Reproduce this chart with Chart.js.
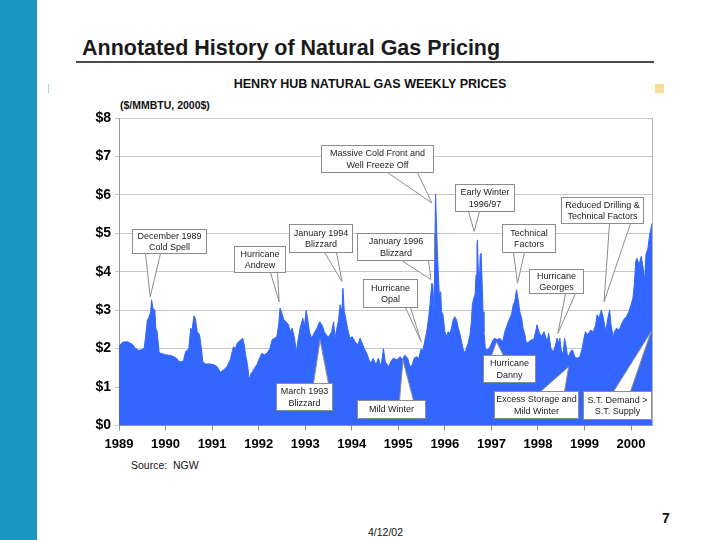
<!DOCTYPE html>
<html>
<head>
<meta charset="utf-8">
<script src="https://cdn.jsdelivr.net/npm/chart.js@4.4.1/dist/chart.umd.min.js"></script>
<style>
  body { margin: 0; background: #fff; }
  #slide { position: relative; width: 720px; height: 540px; overflow: hidden;
           font-family: "Liberation Sans", Arial, sans-serif; color: #111; }
  #slide div { position: absolute; white-space: pre; line-height: 1; }
  #bar { left: 0; top: 0; width: 37px; height: 540px; background: #1b95c1; }
  #title { left: 82px; top: 38px; font-size: 21.5px; font-weight: bold; color: #1a1a1a; }
  #rule { left: 76px; top: 61px; width: 578px; height: 2px; background: #4a4a4a; }
  #mark { left: 48px; top: 84px; width: 1px; height: 9px; background: #a9d2e6; }
  #square { left: 655px; top: 84px; width: 9px; height: 9px; background: #f7dc9a; }
  #chartTitle { left: 0; width: 740px; text-align: center; top: 78px; font-size: 12.5px; font-weight: bold; }
  #units { left: 120px; top: 100px; font-size: 10.5px; font-weight: bold; }
  #source { left: 131px; top: 460px; font-size: 10.5px; }
  #date { left: 368px; top: 527px; font-size: 10.5px; }
  #page { left: 662px; top: 511px; font-size: 14px; font-weight: bold; }
  canvas { position: absolute; left: 0; top: 0; }
</style>
</head>
<body>
<div id="slide">
  <div id="bar"></div>
  <div id="title">Annotated History of Natural Gas Pricing</div>
  <div id="rule"></div>
  <div id="mark"></div>
  <div id="square"></div>
  <div id="chartTitle">HENRY HUB NATURAL GAS WEEKLY PRICES</div>
  <div id="units">($/MMBTU, 2000$)</div>
  <div id="source">Source:  NGW</div>
  <div id="date">4/12/02</div>
  <div id="page">7</div>
  <canvas id="chart" width="720" height="540"></canvas>
</div>
<script>
// data
const dates = [
  1989.00, 1989.04, 1989.09, 1989.18, 1989.29, 1989.36, 1989.43, 1989.54, 1989.57, 1989.61,
  1989.64, 1989.68, 1989.70, 1989.73, 1989.77, 1989.79, 1989.82, 1989.86, 1989.89, 1990.00,
  1990.11, 1990.18, 1990.25, 1990.29, 1990.36, 1990.39, 1990.43, 1990.50, 1990.54, 1990.57,
  1990.61, 1990.64, 1990.68, 1990.73, 1990.77, 1990.80, 1990.86, 1990.96, 1991.04, 1991.11,
  1991.18, 1991.25, 1991.32, 1991.39, 1991.43, 1991.46, 1991.50, 1991.54, 1991.57, 1991.62,
  1991.66, 1991.69, 1991.72, 1991.76, 1991.79, 1991.81, 1991.84, 1991.87, 1991.91, 1991.96,
  1992.02, 1992.07, 1992.12, 1992.18, 1992.24, 1992.29, 1992.34, 1992.39, 1992.43, 1992.46,
  1992.50, 1992.54, 1992.59, 1992.64, 1992.68, 1992.72, 1992.77, 1992.81, 1992.84, 1992.89,
  1992.95, 1992.98, 1993.02, 1993.05, 1993.09, 1993.14, 1993.19, 1993.25, 1993.31, 1993.36,
  1993.41, 1993.45, 1993.50, 1993.57, 1993.61, 1993.64, 1993.68, 1993.71, 1993.75, 1993.79,
  1993.81, 1993.84, 1993.87, 1993.91, 1993.96, 1994.01, 1994.07, 1994.13, 1994.18, 1994.21,
  1994.27, 1994.32, 1994.37, 1994.41, 1994.46, 1994.52, 1994.57, 1994.63, 1994.68, 1994.72,
  1994.79, 1994.84, 1994.89, 1994.97, 1995.04, 1995.09, 1995.14, 1995.20, 1995.25, 1995.30,
  1995.34, 1995.39, 1995.44, 1995.49, 1995.52, 1995.56, 1995.61, 1995.65, 1995.68, 1995.72,
  1995.74, 1995.77, 1995.80, 1995.84, 1995.88, 1995.91, 1995.93, 1995.96, 1996.00, 1996.04,
  1996.07, 1996.11, 1996.14, 1996.18, 1996.21, 1996.25, 1996.29, 1996.32, 1996.36, 1996.39,
  1996.43, 1996.46, 1996.50, 1996.54, 1996.57, 1996.59, 1996.62, 1996.65, 1996.67, 1996.69,
  1996.70, 1996.72, 1996.74, 1996.76, 1996.78, 1996.80, 1996.82, 1996.84, 1996.87, 1996.91,
  1996.95, 1996.99, 1997.04, 1997.07, 1997.12, 1997.18, 1997.24, 1997.29, 1997.34, 1997.38,
  1997.43, 1997.47, 1997.50, 1997.54, 1997.57, 1997.61, 1997.65, 1997.68, 1997.72, 1997.75,
  1997.81, 1997.86, 1997.91, 1997.95, 1997.98, 1998.02, 1998.07, 1998.13, 1998.20, 1998.23,
  1998.28, 1998.33, 1998.38, 1998.41, 1998.45, 1998.47, 1998.50, 1998.54, 1998.57, 1998.60,
  1998.63, 1998.66, 1998.70, 1998.74, 1998.79, 1998.84, 1998.90, 1998.95, 1998.99, 1999.02,
  1999.07, 1999.13, 1999.19, 1999.24, 1999.27, 1999.31, 1999.36, 1999.40, 1999.43, 1999.46,
  1999.50, 1999.54, 1999.57, 1999.62, 1999.64, 1999.69, 1999.74, 1999.79, 1999.84, 1999.90,
  1999.95, 2000.00, 2000.04, 2000.07, 2000.10, 2000.13, 2000.17, 2000.22, 2000.26, 2000.29,
  2000.32, 2000.36, 2000.40, 2000.45
];
const prices = [
  2.05, 2.12, 2.17, 2.18, 2.11, 2.00, 1.95, 2.00, 2.30, 2.75,
  2.80, 2.96, 3.27, 3.05, 3.00, 2.53, 2.44, 1.92, 1.88, 1.84,
  1.82, 1.79, 1.73, 1.66, 1.66, 1.71, 1.92, 2.00, 2.53, 2.49,
  2.85, 2.79, 2.44, 2.36, 2.00, 1.66, 1.60, 1.60, 1.58, 1.53,
  1.38, 1.45, 1.53, 1.71, 1.92, 2.05, 2.00, 2.14, 2.18, 2.23,
  2.27, 2.10, 1.84, 1.58, 1.27, 1.23, 1.36, 1.40, 1.49, 1.58,
  1.75, 1.88, 1.84, 1.88, 2.00, 2.23, 2.27, 2.31, 2.62, 3.05,
  2.92, 2.75, 2.70, 2.62, 2.44, 2.53, 2.27, 1.92, 2.18, 2.53,
  2.79, 2.53, 3.00, 2.79, 2.44, 2.27, 2.40, 2.53, 2.70, 2.62,
  2.44, 2.36, 2.30, 2.44, 2.70, 2.27, 2.53, 2.70, 3.14, 2.96,
  3.57, 2.96, 2.79, 2.53, 2.27, 2.31, 2.18, 2.10, 2.27, 2.18,
  2.00, 1.88, 1.71, 1.62, 1.75, 1.58, 1.75, 1.53, 2.00, 1.66,
  1.53, 1.66, 1.75, 1.71, 1.79, 1.71, 1.83, 1.75, 1.53, 1.58,
  1.75, 1.79, 1.75, 2.00, 1.92, 2.14, 2.44, 2.79, 3.14, 3.70,
  3.66, 2.96, 6.02, 4.50, 3.40, 3.48, 2.96, 2.88, 2.44, 2.31,
  2.44, 2.40, 2.53, 2.75, 2.83, 2.75, 2.53, 2.40, 2.18, 2.00,
  1.88, 2.00, 2.14, 2.36, 2.70, 3.14, 3.31, 3.40, 3.92, 4.70,
  4.83, 4.00, 3.66, 4.44, 4.48, 3.75, 2.96, 2.44, 2.00, 1.97,
  2.00, 2.10, 2.23, 2.27, 2.23, 2.27, 2.18, 2.44, 2.62, 2.75,
  2.88, 3.14, 3.22, 3.53, 3.31, 2.96, 2.79, 2.53, 2.36, 2.14,
  2.18, 2.23, 2.23, 2.44, 2.62, 2.44, 2.31, 2.44, 2.18, 2.40,
  2.00, 1.92, 2.10, 2.27, 2.14, 2.27, 1.97, 1.83, 2.27, 2.10,
  1.85, 1.80, 1.92, 1.97, 1.79, 1.75, 1.79, 2.00, 2.27, 2.44,
  2.36, 2.48, 2.44, 2.62, 2.88, 2.79, 3.00, 2.83, 2.62, 2.44,
  2.79, 3.00, 2.62, 2.27, 2.44, 2.53, 2.48, 2.62, 2.75, 2.83,
  2.96, 3.14, 3.31, 3.66, 4.27, 4.35, 4.18, 4.40, 4.10, 3.75,
  4.44, 4.60, 4.96, 5.26
];
const yearTicks = [1989, 1990, 1991, 1992, 1993, 1994, 1995, 1996, 1997, 1998, 1999, 2000];
const priceTicks = [0, 1, 2, 3, 4, 5, 6, 7, 8];

// annotations: text and the point each one marks
const notes = [
  { lines: ['December 1989', 'Cold Spell'], year: 1989.67, price: 3.35 },
  { lines: ['Hurricane', 'Andrew'], year: 1992.44, price: 3.22 },
  { lines: ['January 1994', 'Blizzard'], year: 1993.79, price: 3.75 },
  { lines: ['Massive Cold Front and', 'Well Freeze Off'], year: 1995.72, price: 5.79 },
  { lines: ['January 1996', 'Blizzard'], year: 1995.70, price: 3.80 },
  { lines: ['Hurricane', 'Opal'], year: 1995.49, price: 2.18 },
  { lines: ['March 1993', 'Blizzard'], year: 1993.32, price: 2.23 },
  { lines: ['Mild Winter'], year: 1995.10, price: 1.70 },
  { lines: ['Early Winter', '1996/97'], year: 1996.63, price: 5.05 },
  { lines: ['Technical', 'Factors'], year: 1997.56, price: 3.70 },
  { lines: ['Hurricane', 'Georges'], year: 1998.43, price: 2.40 },
  { lines: ['Reduced Drilling &', 'Technical Factors'], year: 1999.42, price: 3.22 },
  { lines: ['Hurricane', 'Danny'], year: 1997.11, price: 2.18 },
  { lines: ['Excess Storage and', 'Mild Winter'], year: 1998.66, price: 1.53 },
  { lines: ['S.T. Demand >', 'S.T. Supply'], year: 2000.43, price: 2.44 }
];

// callout box layout: centre in chart units, size in px, wedge base offsets from box left
const noteBoxes = [
  { cx: 1990.08, cy: 4.80, w: 74, h: 24, edge: 'bottom', b0: 13, b1: 28 },
  { cx: 1992.02, cy: 4.32, w: 51, h: 26, edge: 'bottom', b0: 36, b1: 43 },
  { cx: 1993.33, cy: 4.88, w: 63, h: 28, edge: 'bottom', b0: 35, b1: 47 },
  { cx: 1994.54, cy: 6.95, w: 112, h: 27, edge: 'bottom', b0: 66, b1: 96 },
  { cx: 1994.94, cy: 4.66, w: 77, h: 27, edge: 'bottom', b0: 44, b1: 71 },
  { cx: 1994.82, cy: 3.45, w: 54, h: 28, edge: 'bottom', b0: 42, b1: 47 },
  { cx: 1992.98, cy: 0.755, w: 56, h: 27, edge: 'top', b0: 37, b1: 52 },
  { cx: 1994.84, cy: 0.43, w: 68, h: 18, edge: 'top', b0: 42, b1: 56 },
  { cx: 1996.85, cy: 5.94, w: 59, h: 27, edge: 'bottom', b0: 13, b1: 24 },
  { cx: 1997.79, cy: 4.88, w: 53, h: 28, edge: 'bottom', b0: 11, b1: 22 },
  { cx: 1998.38, cy: 3.76, w: 54, h: 24, edge: 'bottom', b0: 36, b1: 46 },
  { cx: 1999.37, cy: 5.61, w: 82, h: 26, edge: 'bottom', b0: 48, b1: 69 },
  { cx: 1997.38, cy: 1.48, w: 52, h: 27, edge: 'top', b0: 8, b1: 20 },
  { cx: 1997.95, cy: 0.55, w: 84, h: 27, edge: 'top', b0: 46, b1: 70 },
  { cx: 1999.69, cy: 0.53, w: 68, h: 28, edge: 'top', b0: 30, b1: 47 }
];

const fontFamily = '"Liberation Sans", Arial, sans-serif';

// draws the callout boxes and the right border of the plot
const notesPlugin = {
  id: 'notes',
  afterDatasetsDraw(chart) {
    const ctx = chart.ctx;
    const xs = chart.scales.x, ys = chart.scales.y;
    const area = chart.chartArea;
    ctx.save();
    ctx.strokeStyle = '#b4b4b4';
    ctx.lineWidth = 1;
    ctx.beginPath();
    ctx.moveTo(Math.round(area.right) + 0.5, area.top);
    ctx.lineTo(Math.round(area.right) + 0.5, area.bottom);
    ctx.stroke();

    notes.forEach((n, i) => {
      const b = noteBoxes[i];
      const left = Math.round(xs.getPixelForValue(b.cx) - b.w / 2) + 0.5;
      const top = Math.round(ys.getPixelForValue(b.cy) - b.h / 2) + 0.5;
      const tx = xs.getPixelForValue(n.year);
      const ty = ys.getPixelForValue(n.price);
      const baseY = b.edge === 'top' ? top : top + b.h;

      ctx.beginPath();
      ctx.moveTo(left + b.b0, baseY);
      ctx.lineTo(tx, ty);
      ctx.lineTo(left + b.b1, baseY);
      ctx.closePath();
      ctx.fillStyle = '#fff';
      ctx.fill();
      ctx.beginPath();
      ctx.moveTo(left + b.b0, baseY);
      ctx.lineTo(tx, ty);
      ctx.lineTo(left + b.b1, baseY);
      ctx.strokeStyle = '#8c8c8c';
      ctx.stroke();

      ctx.fillStyle = '#fff';
      ctx.fillRect(left, top, b.w, b.h);
      ctx.strokeRect(left, top, b.w, b.h);

      ctx.fillStyle = '#222';
      ctx.font = '9px ' + fontFamily;
      ctx.textAlign = 'center';
      ctx.textBaseline = 'middle';
      const mid = top + b.h / 2;
      n.lines.forEach((t, k) => {
        ctx.fillText(t, left + b.w / 2, mid + (k - (n.lines.length - 1) / 2) * 11.5 + 0.5);
      });
    });
    ctx.restore();
  }
};

const ctx = document.getElementById('chart').getContext('2d');
new Chart(ctx, {
  type: 'line',
  data: {
    datasets: [{
      data: dates.map((d, i) => ({ x: d, y: prices[i] })),
      fill: 'origin',
      backgroundColor: '#3366ff',
      borderColor: '#3366ff',
      borderWidth: 1,
      pointRadius: 0,
      tension: 0
    }]
  },
  options: {
    responsive: false,
    animation: false,
    events: [],
    layout: { padding: { left: 0, top: 118, right: 68, bottom: 84.5 } },
    plugins: { legend: { display: false }, tooltip: { enabled: false } },
    scales: {
      x: {
        type: 'linear',
        min: 1989,
        max: 2000.45,
        afterBuildTicks: s => { s.ticks = yearTicks.map(v => ({ value: v })); },
        afterFit: s => { s.height = 30; },
        grid: { drawOnChartArea: false, tickLength: 5, color: '#8c8c8c' },
        border: { color: '#999' },
        ticks: {
          callback: v => String(v),
          font: { family: fontFamily, size: 13, weight: 'bold' },
          color: '#000',
          padding: 6,
          maxRotation: 0,
          autoSkip: false
        }
      },
      y: {
        min: 0,
        max: 8,
        afterBuildTicks: s => { s.ticks = priceTicks.map(v => ({ value: v })); },
        afterFit: s => { s.width = 119; },
        grid: { color: '#c8c8c8', tickLength: 4 },
        border: { color: '#999' },
        ticks: {
          callback: v => '$' + v,
          font: { family: fontFamily, size: 14, weight: 'bold' },
          color: '#000',
          padding: 4
        }
      }
    }
  },
  plugins: [notesPlugin]
});
</script>
</body>
</html>
